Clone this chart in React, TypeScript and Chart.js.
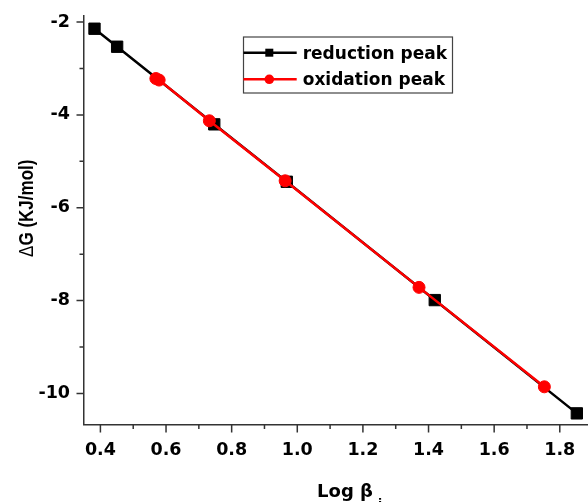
import { useEffect, useRef } from 'react';
import { Chart, registerables } from 'chart.js';

Chart.register(...registerables);

// ---- data ----
const seriesNames = ['reduction peak', 'oxidation peak'];
const reductionX = [0.382, 0.451, 0.747, 0.968, 1.419, 1.852];
const reductionY = [-2.144, -2.532, -4.204, -5.441, -7.99, -10.43];
const oxidationX = [0.569, 0.579, 0.732, 0.963, 1.371, 1.753];
const oxidationY = [-3.217, -3.25, -4.127, -5.42, -7.716, -9.858];
const xTickLabels = ['0.4', '0.6', '0.8', '1.0', '1.2', '1.4', '1.6', '1.8'];
const yTickLabels = ['-10', '-8', '-6', '-4', '-2'];

const X_MIN = 0.35;
const X_MAX = 1.886;
const Y_MIN = -10.67;
const Y_MAX = -1.87;

const AXIS = '#333333';

const xMajor = xTickLabels.map(Number);
const yMajor = yTickLabels.map(Number);
const xMinor = xMajor.slice(0, -1).map((v, i) => (v + xMajor[i + 1]) / 2);
const yMinor = yMajor.slice(0, -1).map((v, i) => (v + yMajor[i + 1]) / 2);

const decorPlugin = {
  id: 'decor',
  afterDraw(chart: any) {
    const ctx: CanvasRenderingContext2D = chart.ctx;
    const xs = chart.scales.x;
    const ys = chart.scales.y;
    const a = chart.chartArea;
    ctx.save();
    ctx.strokeStyle = AXIS;
    ctx.lineWidth = 1.5;
    ctx.beginPath();
    xMajor.forEach((v) => {
      const p = xs.getPixelForValue(v);
      ctx.moveTo(p, a.bottom);
      ctx.lineTo(p, a.bottom + 8);
    });
    xMinor.forEach((v) => {
      const p = xs.getPixelForValue(v);
      ctx.moveTo(p, a.bottom);
      ctx.lineTo(p, a.bottom + 4.5);
    });
    yMajor.forEach((v) => {
      const p = ys.getPixelForValue(v);
      ctx.moveTo(a.left, p);
      ctx.lineTo(a.left - 7.5, p);
    });
    yMinor.forEach((v) => {
      const p = ys.getPixelForValue(v);
      ctx.moveTo(a.left, p);
      ctx.lineTo(a.left - 4.5, p);
    });
    ctx.stroke();

    // x title
    ctx.fillStyle = '#000';
    ctx.textBaseline = 'alphabetic';
    ctx.textAlign = 'left';
    ctx.font = 'bold 18px "DejaVu Sans"';
    const main = 'Log β';
    const mw = ctx.measureText(main).width;
    const cx = (a.left + a.right) / 2 + 9;
    const tx = cx - mw / 2;
    ctx.fillText(main, tx, 496.5);
    ctx.font = 'bold 12px "DejaVu Sans"';
    ctx.fillText('i', tx + mw + 5, 508);

    // y title
    ctx.save();
    ctx.translate(33, (a.top + a.bottom) / 2 - 12);
    ctx.rotate(-Math.PI / 2);
    ctx.scale(1, 1.2);
    const d = 'Δ';
    const rest = 'G (KJ/mol)';
    ctx.font = '17px "Liberation Sans"';
    const dw = ctx.measureText(d).width;
    ctx.font = 'bold 17px "Liberation Sans"';
    const rw = ctx.measureText(rest).width;
    const start = -(dw + rw) / 2;
    ctx.font = '17px "Liberation Sans"';
    ctx.fillText(d, start, 0);
    ctx.font = 'bold 17px "Liberation Sans"';
    ctx.fillText(rest, start + dw, 0);
    ctx.restore();

    // legend
    const bx = 243.5, by = 37, bw = 209, bh = 56;
    ctx.fillStyle = '#fff';
    ctx.fillRect(bx, by, bw, bh);
    ctx.strokeStyle = '#444';
    ctx.lineWidth = 1.2;
    ctx.strokeRect(bx, by, bw, bh);
    const rows = [
      { y: 52.7, color: '#000000', shape: 'rect' },
      { y: 79.3, color: '#ff0000', shape: 'circle' },
    ];
    rows.forEach((r, i) => {
      ctx.strokeStyle = r.color;
      ctx.lineWidth = 2.5;
      ctx.beginPath();
      ctx.moveTo(bx, r.y);
      ctx.lineTo(296.7, r.y);
      ctx.stroke();
      ctx.fillStyle = r.color;
      if (r.shape === 'rect') {
        ctx.fillRect(269.3 - 4, r.y - 4, 8, 8);
      } else {
        ctx.beginPath();
        ctx.arc(269.3, r.y, 4.8, 0, Math.PI * 2);
        ctx.fill();
      }
      ctx.fillStyle = '#000';
      ctx.font = 'bold 17px "DejaVu Sans"';
      ctx.textAlign = 'left';
      ctx.fillText(seriesNames[i], 302.7, r.y + 6);
    });
    ctx.restore();
  },
};

export default function App() {
  const ref = useRef<HTMLCanvasElement | null>(null);
  useEffect(() => {
    if (!ref.current) return;
    const chart = new Chart(ref.current, {
      type: 'scatter',
      data: {
        datasets: [
          {
            label: seriesNames[0],
            data: reductionX.map((x, i) => ({ x, y: reductionY[i] })),
            showLine: true,
            borderColor: '#000000',
            backgroundColor: '#000000',
            borderWidth: 2.5,
            pointStyle: 'rect',
            pointRadius: 8,
            pointBorderWidth: 1,
            pointBorderColor: '#000000',
            pointBackgroundColor: '#000000',
            order: 2,
          },
          {
            label: seriesNames[1],
            data: oxidationX.map((x, i) => ({ x, y: oxidationY[i] })),
            showLine: true,
            borderColor: '#ff0000',
            backgroundColor: '#ff0000',
            borderWidth: 2.5,
            pointStyle: 'circle',
            pointRadius: 6,
            pointBorderWidth: 1,
            pointBorderColor: '#ff0000',
            pointBackgroundColor: '#ff0000',
            order: 1,
          },
        ],
      },
      options: {
        animation: false,
        responsive: false,
        devicePixelRatio: 1,
        layout: { autoPadding: false, padding: { top: 16, right: 0, left: 0, bottom: 0 } },
        plugins: { legend: { display: false }, tooltip: { enabled: false } },
        scales: {
          x: {
            type: 'linear',
            min: X_MIN,
            max: X_MAX,
            grid: { display: false, drawTicks: false },
            border: { display: true, color: AXIS, width: 1.5 },
            afterBuildTicks: (s: any) => {
              s.ticks = xMajor.map((v) => ({ value: v }));
            },
            afterFit: (s: any) => {
              s.height = 77.5;
              s.paddingLeft = 0;
              s.paddingRight = 0;
            },
            ticks: {
              autoSkip: false,
              maxRotation: 0,
              padding: 15,
              color: '#000',
              font: { family: 'DejaVu Sans', size: 17.5, weight: 'bold' },
              callback: (v: any) => xTickLabels[xMajor.indexOf(Number(v))] ?? '',
            },
          },
          y: {
            type: 'linear',
            min: Y_MIN,
            max: Y_MAX,
            grid: { display: false, drawTicks: false },
            border: { display: true, color: AXIS, width: 1.5 },
            afterBuildTicks: (s: any) => {
              s.ticks = yMajor.map((v) => ({ value: v }));
            },
            afterFit: (s: any) => {
              s.width = 84;
              s.paddingTop = 0;
              s.paddingBottom = 0;
            },
            ticks: {
              autoSkip: false,
              padding: 14,
              color: '#000',
              font: { family: 'DejaVu Sans', size: 17.5, weight: 'bold' },
              callback: (v: any) => yTickLabels[yMajor.indexOf(Number(v))] ?? '',
            },
          },
        },
      },
      plugins: [decorPlugin],
    } as any);
    return () => chart.destroy();
  }, []);
  return (
    <div style={{ position: 'fixed', left: 0, top: 0, width: 588, height: 502, background: '#fff' }}>
      <canvas ref={ref} width={588} height={502} style={{ width: 588, height: 502, display: 'block' }} />
    </div>
  );
}
